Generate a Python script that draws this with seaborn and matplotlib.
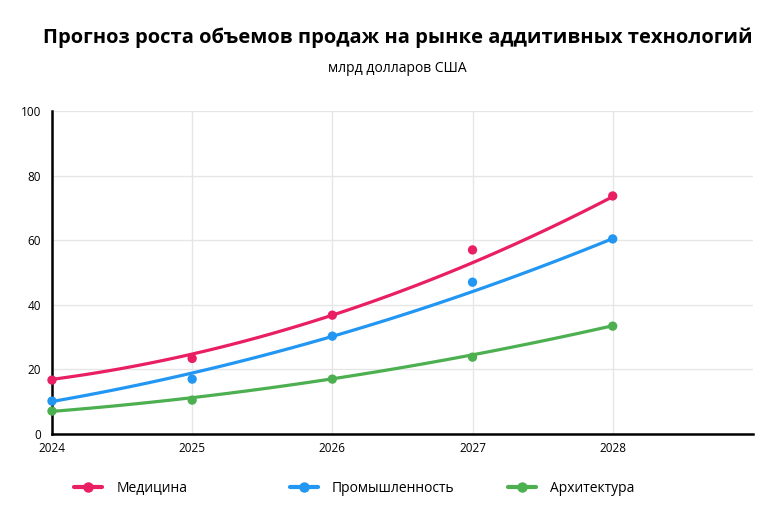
import matplotlib
matplotlib.use('Agg')
import matplotlib.pyplot as plt
from matplotlib.lines import Line2D
import seaborn as sns

# Data (billion USD)
years = [2024, 2025, 2026, 2027, 2028]
medicine = [16.7, 23.4, 36.8, 57.0, 73.7]
industry = [10.2, 17.0, 30.3, 47.0, 60.4]
architecture = [7.1, 10.5, 17.0, 23.8, 33.4]

# trend curve values (the smooth lines), read at each year
medicine_trend = [16.7, 25.2, 36.8, 52.6, 73.7]
industry_trend = [10.2, 18.6, 30.3, 44.3, 60.4]
architecture_trend = [7.1, 11.1, 17.0, 24.8, 33.4]

names = ['Медицина', 'Промышленность', 'Архитектура']
colors = ['#E91E63', '#2196F3', '#4CAF50']

sns.set_style('white')
plt.rcParams['font.family'] = ['Open Sans', 'DejaVu Sans']
plt.rcParams['text.color'] = 'black'

fig = plt.figure(figsize=(7.84, 5.09), dpi=100)
ax = fig.add_axes([0.0663, 0.1473, 0.894, 0.6346])

series = [(medicine, medicine_trend), (industry, industry_trend), (architecture, architecture_trend)]
for (pts, trend), c in zip(series, colors):
    sns.regplot(x=years, y=trend, order=2, ci=None, scatter=False, truncate=True,
                line_kws={'color': c, 'lw': 2.3, 'solid_capstyle': 'round'}, ax=ax)
    sns.scatterplot(x=years, y=pts, color=c, s=45, edgecolor='none', zorder=5,
                    clip_on=False, ax=ax)

ax.set_xlim(2024, 2029)
ax.set_ylim(0, 100)
ax.set_xticks(years)
ax.set_xticklabels([str(y) for y in years])
ax.set_yticks(range(0, 101, 20))
ax.grid(True, color='#e6e6e6', lw=1)
ax.set_axisbelow(True)
ax.tick_params(length=0, labelsize=8.5, colors='black')
ax.tick_params(axis='y', pad=8)
ax.tick_params(axis='x', pad=6)
for s in ['top', 'right']:
    ax.spines[s].set_visible(False)
for s in ['left', 'bottom']:
    ax.spines[s].set_color('black')
    ax.spines[s].set_linewidth(1.8)
ax.set_xlabel('')
ax.set_ylabel('')

fig.text(0.507, 0.925, 'Прогноз роста объемов продаж на рынке аддитивных технологий',
         ha='center', va='center', fontsize=14.5, fontweight='bold', color='black')
fig.text(0.507, 0.866, 'млрд долларов США', ha='center', va='center', fontsize=10, color='black')

# legend: three fixed-position entries
xs = [0.095, 0.370, 0.648]
for name, c, x in zip(names, colors, xs):
    h = Line2D([0], [0], color=c, lw=3, marker='o', markersize=6.5)
    fig.legend(handles=[h], labels=[name], loc='center left', bbox_to_anchor=(x, 0.041),
               frameon=False, fontsize=10, handlelength=2.0, handletextpad=1.0,
               borderpad=0, borderaxespad=0, labelcolor='black')

fig.savefig('out.png', dpi=100)
